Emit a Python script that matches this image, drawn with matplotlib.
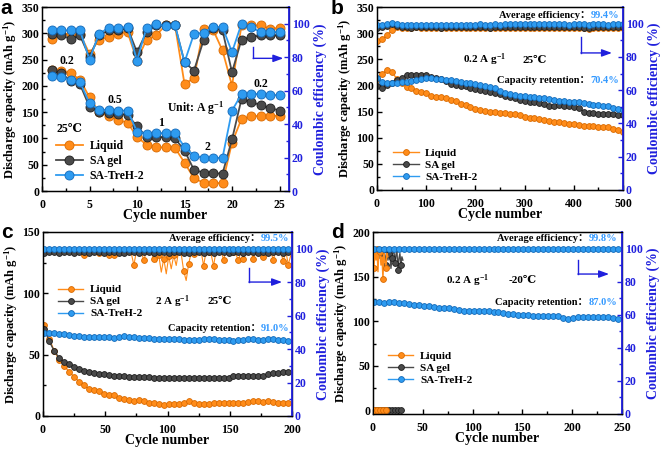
import numpy as np
import matplotlib
matplotlib.use('Agg')
import matplotlib.pyplot as plt
from matplotlib.ticker import MultipleLocator
from matplotlib.offsetbox import TextArea, HPacker, AnchoredOffsetbox

plt.rcParams['font.family'] = ['Liberation Serif', 'DejaVu Serif', 'Noto Sans CJK SC']
plt.rcParams['font.weight'] = 'bold'
plt.rcParams['axes.labelweight'] = 'bold'
plt.rcParams['mathtext.fontset'] = 'custom'
plt.rcParams['mathtext.rm'] = 'Liberation Serif:bold'
plt.rcParams['mathtext.it'] = 'Liberation Serif:bold'
plt.rcParams['mathtext.bf'] = 'Liberation Serif:bold'

ORANGE, ORANGE_E = '#FF8C1A', '#D96A00'
GRAY, GRAY_E = '#4A4A4A', '#1E1E1E'
BLUE, BLUE_E = '#2E9BF0', '#1469B8'
AXBLUE = '#2020DD'
HL = '#3399FF'

labels = ['Liquid', 'SA gel', 'SA-TreH-2']

# ---------------- panel a (rate) ----------------
cycles_a = list(range(1, 26))
cap_a_liquid = [230, 229, 224, 212, 178, 150, 143, 135, 130, 103, 88, 83, 83, 82, 54, 24, 16, 15, 15, 92, 137, 142, 143, 143, 143]
cap_a_gel = [231, 224, 210, 203, 160, 150, 148, 147, 145, 123, 103, 103, 102, 100, 77, 40, 35, 34, 33, 98, 175, 170, 163, 158, 153]
cap_a_treh = [219, 217, 211, 207, 167, 155, 154, 153, 153, 113, 109, 110, 110, 110, 84, 67, 63, 63, 63, 153, 184, 185, 184, 183, 182]
ce_a_liquid = [91, 94, 94, 94, 82, 90.5, 92, 94, 95, 78, 90.5, 93, 99, 99, 64, 67.5, 97, 96.5, 84, 63, 99, 99, 99, 97, 97.5]
ce_a_gel = [94, 93, 91, 93, 80, 93, 96, 96, 97.5, 83, 95, 99, 99, 99, 77, 72, 90, 97.5, 96, 71, 90.5, 92, 93, 93, 93]
ce_a_treh = [96, 96, 96, 96, 78.5, 94, 97.5, 97.5, 98, 78, 97.5, 100, 98.5, 99, 77, 94, 94.5, 98, 98, 83, 100, 98, 95, 95, 95]

# ---------------- panel b (0.2 A/g, 25C) ----------------
cycles_b = [1] + list(range(10, 501, 10))
cap_b_liquid = [212, 222, 229, 226, 213, 205, 197, 195, 190, 188, 185, 180, 178, 178, 175, 173, 170, 165, 162, 158,
                155, 153, 152, 150, 150, 148, 147, 146, 145, 144, 140, 138, 137, 135, 134, 132, 130, 130, 128, 127,
                126, 125, 122, 123, 123, 121, 121, 120, 117, 114, 111]
cap_b_gel = [199, 195, 200, 205, 210, 215, 219, 219, 219, 219, 219, 217, 215, 212, 208, 203, 200, 199, 198, 196,
             194, 192, 190, 188, 186, 183, 180, 178, 176, 173, 170, 169, 168, 167, 165, 160, 161, 162, 160, 160,
             158, 157, 150, 148, 147, 145, 145, 145, 145, 144, 143]
cap_b_treh = [215, 207, 205, 204, 205, 206, 207, 208, 210, 212, 215, 214, 213, 212, 211, 210, 208, 206, 205, 204,
              202, 201, 199, 197, 195, 190, 186, 183, 182, 180, 179, 178, 177, 176, 175, 174, 173, 171, 170, 169,
              168, 168, 166, 165, 163, 162, 160, 160, 157, 155, 153]
ce_b_liquid = [89.5, 90.5, 93, 96, 98, 97.5, 97.6, 97.4, 97.7, 97.5, 97.3, 97.6, 97.5, 97.2, 97.5, 97.3, 97.4, 97.6, 97.5, 97.2,
               97.4, 97.6, 97.3, 97.5, 97.4, 97.1, 97.3, 97.5, 97.4, 97.6, 97.3, 97.4, 97.5, 97.2, 97.4, 97.6, 97.3, 97.4, 97.1, 97.3,
               97.5, 97.4, 97.2, 97.0, 97.3, 97.4, 97.5, 97.3, 97.4, 97.5, 97.2]
ce_b_gel = [97.6, 97.8, 98.3, 99.6, 98.4, 97.7, 98.0, 97.6, 97.8, 97.9, 97.7, 98.0, 97.8, 97.6, 97.9, 97.8, 97.7, 98.0, 97.9, 97.8,
            97.9, 97.7, 97.8, 97.5, 97.9, 97.8, 97.7, 98.0, 97.8, 97.9, 97.8, 98.1, 97.9, 97.7, 97.8, 98.0, 97.9, 97.7, 97.8, 97.9,
            97.8, 97.7, 97.5, 97.6, 97.8, 97.9, 97.8, 97.7, 97.9, 97.8, 97.7]
ce_b_treh = [99.3, 99.2, 99.6, 100.6, 99.8, 99.3, 99.4, 99.2, 99.4, 99.3, 99.2, 99.4, 99.3, 99.2, 99.4, 99.3, 99.4, 99.2, 99.3, 99.4,
             99.3, 99.5, 99.4, 99.3, 99.5, 99.4, 99.6, 99.5, 99.6, 99.7, 99.6, 99.8, 99.7, 99.6, 99.7, 99.6, 99.5, 99.6, 99.5, 99.4,
             99.5, 99.6, 99.5, 99.4, 99.5, 99.6, 99.5, 99.4, 99.6, 99.5, 99.5]

# ---------------- panel c (2 A/g, 25C) ----------------
cycles_c = list(range(1, 201, 4))
cap_c_liquid = [74, 63, 53, 46, 41, 36, 32, 28, 25, 22, 21, 20, 18, 17, 17, 15, 14, 13, 12, 13,
                12, 11, 10.5, 10, 9, 9.5, 10, 10, 11, 12, 11, 10, 10, 10, 10.5, 11, 11, 11, 11, 11,
                11, 11.5, 12, 12, 11.5, 12, 11.5, 11, 11, 11]
cap_c_gel = [71, 61, 53, 47.5, 44, 42, 40, 38.5, 37, 36, 35, 34.5, 34, 33.5, 33, 33, 32.5, 32, 32, 32,
             31.5, 31.5, 31, 31, 31, 31, 31, 31, 31, 31, 31, 31, 31, 31, 31, 31, 31, 31, 33, 33,
             33, 33, 32.5, 33, 33, 34, 35, 35, 35.5, 36]
cap_c_treh = [68, 68, 68, 67, 66.5, 66, 65.5, 65, 64.5, 64.5, 64, 64, 64, 64, 63.5, 64, 65, 64.5, 64, 63.5,
              63.5, 63.5, 63, 63, 62.5, 62.5, 62.5, 62.5, 62, 62, 62, 62, 62.5, 62.5, 62.5, 62, 62, 62, 61.5, 62,
              62, 62.5, 62.5, 62, 62, 62.5, 62.5, 62, 62, 61.5]
cycles_c_liq_ce = list(range(1, 201, 2))
ce_c_liquid = [99.0, 98.8, 99.2, 98.6, 99.0, 98.9, 99.1, 98.7, 99.0, 98.8,
               98.9, 99.1, 98.6, 99.0, 98.8, 99.2, 96.5, 98.9, 98.7, 99.0,
               98.8, 99.0, 97.5, 98.8, 99.1, 98.6, 96.2, 98.9, 96.0, 98.8,
               99.0, 98.7, 98.6, 99.0, 98.8, 97.0, 90.2, 98.5, 98.8, 98.0,
               93.0, 98.6, 98.9, 97.5, 94.0, 92.0, 96.0, 86.0, 94.0, 85.0,
               95.5, 88.0, 96.0, 90.0, 98.8, 97.0, 86.7, 81.0, 91.0, 97.5,
               97.0, 98.8, 99.0, 98.5, 89.7, 98.6, 98.0, 97.0, 89.7, 98.8,
               98.5, 99.0, 93.4, 98.6, 99.0, 98.0, 98.3, 96.5, 93.0, 98.8,
               94.0, 98.6, 98.9, 98.0, 94.0, 98.8, 99.0, 98.5, 95.0, 98.8,
               98.6, 98.0, 93.5, 98.8, 98.9, 98.0, 92.5, 98.7, 90.5, 96.0]
ce_c_gel = [97.6, 97.8, 97.9, 97.7, 98.0, 97.8, 97.5, 97.9, 97.8, 97.6, 97.8, 97.9, 97.7, 97.8, 98.0, 97.7, 97.6, 97.9, 97.8, 97.7,
            97.9, 97.8, 97.6, 97.8, 97.9, 97.7, 97.8, 98.0, 97.7, 97.6, 97.8, 97.9, 97.7, 97.8, 97.6, 97.9, 97.8, 97.7, 97.8, 97.9,
            97.7, 97.8, 97.9, 97.6, 97.8, 97.7, 97.9, 97.8, 97.7, 97.8]
ce_c_treh = [99.8, 99.9, 100.1, 100.0, 99.8, 100.1, 99.9, 100.0, 99.8, 99.6, 99.9, 100.1, 100.0, 99.8, 99.9, 100.1, 99.9, 100.0, 99.8, 100.1,
             99.9, 100.0, 99.8, 100.1, 99.9, 99.7, 100.0, 99.9, 100.1, 99.8, 99.9, 100.0, 99.8, 99.9, 100.1, 99.9, 99.8, 100.0, 99.9, 99.8,
             100.0, 99.9, 99.8, 100.1, 99.9, 99.8, 100.0, 99.9, 99.8, 100.0]

# ---------------- panel d (0.2 A/g, -20C) ----------------
cycles_d = list(range(1, 251, 5))
cap_d_treh = [122, 121, 120, 121, 121, 120, 120, 119, 118, 118, 117, 117, 116, 115, 115, 115, 114, 113, 112, 112,
              112, 112, 111, 111, 110, 110, 109, 108, 108, 107.5, 107, 107, 106, 106, 106, 106, 106, 105.5, 104, 103,
              104, 105, 105, 105, 104.5, 104.5, 104.5, 105, 104, 103]
ce_d_treh = [99.8, 99.6, 99.9, 100.0, 99.8, 99.7, 99.9, 99.8, 99.9, 100.0, 99.8, 99.7, 99.9, 99.8, 99.9, 99.8, 99.7, 99.9, 99.8, 99.9,
             99.8, 99.9, 99.7, 99.8, 99.9, 99.8, 99.9, 99.8, 99.7, 99.9, 99.8, 99.9, 99.8, 99.7, 99.8, 99.9, 99.8, 99.9, 99.7, 99.8,
             99.9, 99.8, 99.7, 99.9, 99.8, 99.9, 99.8, 99.7, 99.8, 99.6]
cycles_d_liquid = list(range(1, 16))
cap_d_liquid = [0] * 15
ce_d_liquid = [88.5, 99.5, 93, 99.5, 86, 99, 98, 90, 95, 81.5, 99, 92, 88.5, 97, 95]
cycles_d_gel = list(range(1, 31))
cap_d_gel = [0] * 30
ce_d_gel = [99, 100, 97, 99, 98, 94, 99, 97, 92, 99, 98, 96, 90, 99, 93, 97, 99, 88, 94, 98,
            99, 91, 96, 99, 87, 94, 97, 90, 95, 93]

W, H = 661, 450
fig = plt.figure(figsize=(W / 100, H / 100), dpi=100)


def rect(x0, x1, ytop, ybot):
    return [x0 / W, 1 - ybot / H, (x1 - x0) / W, (ybot - ytop) / H]


def style(ax, ax2, xlim, xmaj, ylim, ymaj):
    ax.set_xlim(*xlim)
    ax.set_ylim(*ylim)
    ax2.set_ylim(0, 110)
    ax.xaxis.set_major_locator(MultipleLocator(xmaj))
    ax.xaxis.set_minor_locator(MultipleLocator(xmaj / 2))
    ax.yaxis.set_major_locator(MultipleLocator(ymaj))
    ax.yaxis.set_minor_locator(MultipleLocator(ymaj / 2))
    ax2.yaxis.set_major_locator(MultipleLocator(20))
    ax2.yaxis.set_minor_locator(MultipleLocator(10))
    ax.tick_params(which='both', direction='in', labelsize=8.5, width=1, pad=2)
    ax.tick_params(axis='x', which='both', pad=5.5)
    ax.tick_params(which='major', length=3.5)
    ax.tick_params(which='minor', length=2)
    ax2.tick_params(axis='y', which='both', direction='in', colors=AXBLUE, labelsize=8.5, width=1, pad=2)
    ax2.tick_params(axis='y', which='major', length=3.5)
    ax2.tick_params(axis='y', which='minor', length=2)
    for s in ax.spines.values():
        s.set_linewidth(1)
    ax2.spines['right'].set_color(AXBLUE)
    ax2.spines['right'].set_linewidth(1.3)
    ax.set_xlabel('Cycle number', fontsize=10, labelpad=-1)
    ax.set_ylabel('Discharge capacity (mAh g$^{-1}$)', fontsize=9, labelpad=2)
    ax2.set_ylabel('Coulombic efficiency (%)', color=AXBLUE, fontsize=10, labelpad=3)


def arrow(ax, x0, y0, y1, x1):
    ax.plot([x0, x0], [y0, y1], color=AXBLUE, lw=1.0, transform=ax.transAxes, clip_on=False)
    ax.annotate('', xy=(x1, y1), xytext=(x0, y1), xycoords='axes fraction', textcoords='axes fraction',
                arrowprops=dict(arrowstyle='-|>,head_length=0.6,head_width=0.22', color=AXBLUE, lw=1.0,
                                shrinkA=0, shrinkB=0))


def two_color(ax, x, y, label, value, fs=7.5):
    t1 = TextArea(label, textprops=dict(color='black', fontsize=fs, fontweight='bold'))
    t2 = TextArea(value, textprops=dict(color=HL, fontsize=fs, fontweight='bold'))
    box = HPacker(children=[t1, t2], align='baseline', pad=0, sep=0)
    ab = AnchoredOffsetbox(loc='center right', child=box, pad=0, borderpad=0, frameon=False,
                           bbox_to_anchor=(x, y), bbox_transform=ax.transAxes)
    ax.add_artist(ab)


def series(ax, x, y, face, edge, ms, lw, label=None, markevery=None):
    return ax.plot(x, y, '-o', color=face, mfc=face, mec=edge, mew=0.6, ms=ms, lw=lw, label=label,
                   markevery=markevery)[0]


def legend(ax2, handles, x, y, fs=8, ls=0.2):
    ax2.legend(handles=handles, loc='lower left', bbox_to_anchor=(x, y), frameon=False, fontsize=fs,
               handlelength=2.3, handletextpad=0.6, labelspacing=ls, borderaxespad=0, borderpad=0)


# ===== a =====
ax = fig.add_axes(rect(42, 289, 7, 191))
ax2 = ax.twinx()
h = []
for cap, ce, f, e, lab in [(cap_a_liquid, ce_a_liquid, ORANGE, ORANGE_E, labels[0]),
                           (cap_a_gel, ce_a_gel, GRAY, GRAY_E, labels[1]),
                           (cap_a_treh, ce_a_treh, BLUE, BLUE_E, labels[2])]:
    h.append(series(ax, cycles_a, cap, f, e, 6.5, 1.3, lab))
    series(ax2, cycles_a, ce, f, e, 6.5, 1.3)
style(ax, ax2, (0, 26), 5, (0, 350), 50)
legend(ax2, h, 0.055, 0.05, fs=8.5, ls=0.25)
arrow(ax2, 0.855, 0.784, 0.721, 0.977)
ax.text(2.6, 247, '0.2', fontsize=8.5, ha='center', va='center')
ax.text(7.7, 173, '0.5', fontsize=8.5, ha='center', va='center')
ax.text(12.5, 129, '1', fontsize=8.5, ha='center', va='center')
ax.text(17.4, 83, '2', fontsize=8.5, ha='center', va='center')
ax.text(23.0, 204, '0.2', fontsize=8.5, ha='center', va='center')
ax.text(16.1, 158, 'Unit: A g$^{-1}$', fontsize=8.5, ha='center', va='center')
ax.text(2.9, 118, '25℃', fontsize=8.5, ha='center', va='center')

# ===== b =====
ax = fig.add_axes(rect(377, 623, 7, 190))
ax2 = ax.twinx()
h = []
for cap, ce, f, e, lab in [(cap_b_liquid, ce_b_liquid, ORANGE, ORANGE_E, labels[0]),
                           (cap_b_gel, ce_b_gel, GRAY, GRAY_E, labels[1]),
                           (cap_b_treh, ce_b_treh, BLUE, BLUE_E, labels[2])]:
    h.append(series(ax, cycles_b, cap, f, e, 4.2, 1.0, lab))
    series(ax2, cycles_b, ce, f, e, 4.2, 1.0)
style(ax, ax2, (0, 500), 100, (0, 350), 50)
legend(ax2, h, 0.065, 0.042)
arrow(ax2, 0.829, 0.836, 0.749, 0.955)
two_color(ax2, 0.984, 0.956, 'Average efficiency：', '99.4%')
two_color(ax2, 0.984, 0.601, 'Capacity retention：', '70.4%')
ax2.text(0.439, 0.71, '0.2 A g$^{-1}$', transform=ax2.transAxes, fontsize=8, ha='center', va='center')
ax2.text(0.642, 0.71, '25℃', transform=ax2.transAxes, fontsize=8, ha='center', va='center')

# ===== c =====
ax = fig.add_axes(rect(43, 292, 232, 416))
ax2 = ax.twinx()
h = []
for cap, f, e, lab in [(cap_c_liquid, ORANGE, ORANGE_E, labels[0]),
                       (cap_c_gel, GRAY, GRAY_E, labels[1]),
                       (cap_c_treh, BLUE, BLUE_E, labels[2])]:
    h.append(series(ax, cycles_c, cap, f, e, 4.2, 1.0, lab))
series(ax2, cycles_c_liq_ce, ce_c_liquid, ORANGE, ORANGE_E, 4.2, 0.8, markevery=2)
series(ax2, cycles_c, ce_c_gel, GRAY, GRAY_E, 4.2, 1.0)
series(ax2, cycles_c, ce_c_treh, BLUE, BLUE_E, 4.2, 1.0)
style(ax, ax2, (0, 200), 50, (0, 150), 50)
legend(ax2, h, 0.06, 0.53)
arrow(ax2, 0.827, 0.804, 0.728, 0.960)
two_color(ax2, 0.988, 0.962, 'Average efficiency：', '99.5%')
two_color(ax2, 0.988, 0.478, 'Capacity retention：', '91.0%')
ax2.text(0.518, 0.62, '2 A g$^{-1}$', transform=ax2.transAxes, fontsize=8, ha='center', va='center')
ax2.text(0.711, 0.62, '25℃', transform=ax2.transAxes, fontsize=8, ha='center', va='center')

# ===== d =====
ax = fig.add_axes(rect(373, 622, 232, 414))
ax2 = ax.twinx()
h = []
h.append(series(ax, cycles_d_liquid, cap_d_liquid, ORANGE, ORANGE_E, 4.2, 1.0, labels[0], markevery=3))
h.append(series(ax, cycles_d_gel, cap_d_gel, GRAY, GRAY_E, 4.2, 1.0, labels[1], markevery=3))
h.append(series(ax, cycles_d, cap_d_treh, BLUE, BLUE_E, 4.2, 1.0, labels[2]))
ax.lines[0].set_zorder(3)
series(ax2, cycles_d_gel, ce_d_gel, GRAY, GRAY_E, 4.2, 1.0, markevery=3)
series(ax2, cycles_d_liquid, ce_d_liquid, ORANGE, ORANGE_E, 4.2, 1.0, markevery=3)
series(ax2, cycles_d, ce_d_treh, BLUE, BLUE_E, 4.2, 1.0)
style(ax, ax2, (0, 250), 50, (-4, 200), 50)
legend(ax2, h, 0.06, 0.16)
arrow(ax2, 0.823, 0.846, 0.769, 0.948)
two_color(ax2, 0.980, 0.962, 'Average efficiency：', '99.8%')
two_color(ax2, 0.980, 0.610, 'Capacity retention：', '87.0%')
ax2.text(0.378, 0.731, '0.2 A g$^{-1}$', transform=ax2.transAxes, fontsize=8, ha='center', va='center')
ax2.text(0.602, 0.731, '-20℃', transform=ax2.transAxes, fontsize=8, ha='center', va='center')

# panel letters
for lab, x, y in [('a', 6, 9), ('b', 337, 9), ('c', 7, 233), ('d', 338, 233)]:
    fig.text(x / W, 1 - y / H, lab, fontsize=15, fontweight='bold', family=['Liberation Sans', 'DejaVu Sans'],
             ha='center', va='center')

fig.savefig('out.png', dpi=100)
